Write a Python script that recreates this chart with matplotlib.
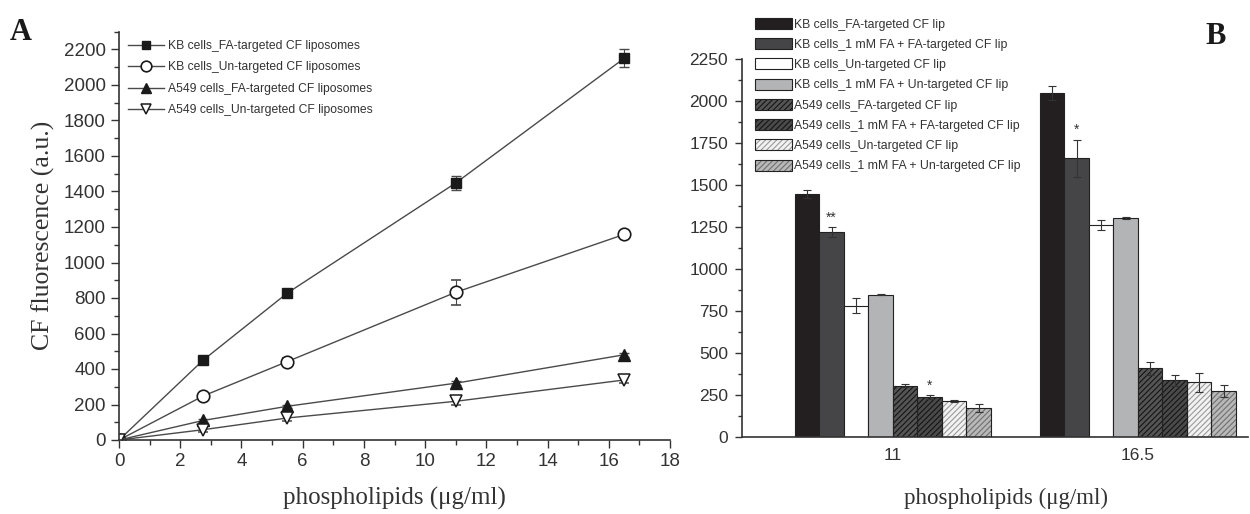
import matplotlib.pyplot as plt
from matplotlib.ticker import MultipleLocator
from matplotlib.patches import Patch

plt.rcParams['font.family'] = ['Liberation Sans', 'DejaVu Sans']
plt.rcParams['hatch.linewidth'] = 0.8

# ---- panel A data ----
conc = [0, 2.75, 5.5, 11, 16.5]
kb_fa = [0, 450, 828, 1448, 2150]
kb_fa_err = [0, 12, 15, 40, 50]
kb_un = [0, 248, 442, 832, 1158]
kb_un_err = [0, 18, 22, 72, 18]
a549_fa = [0, 110, 190, 320, 480]
a549_fa_err = [0, 10, 10, 12, 12]
a549_un = [0, 58, 124, 218, 338]
a549_un_err = [0, 15, 15, 18, 15]

labels_a = ["KB cells_FA-targeted CF liposomes",
            "KB cells_Un-targeted CF liposomes",
            "A549 cells_FA-targeted CF liposomes",
            "A549 cells_Un-targeted CF liposomes"]

# ---- panel B data ----
groups = ["11", "16.5"]
bar_labels = ["KB cells_FA-targeted CF lip",
              "KB cells_1 mM FA + FA-targeted CF lip",
              "KB cells_Un-targeted CF lip",
              "KB cells_1 mM FA + Un-targeted CF lip",
              "A549 cells_FA-targeted CF lip",
              "A549 cells_1 mM FA + FA-targeted CF lip",
              "A549 cells_Un-targeted CF lip",
              "A549 cells_1 mM FA + Un-targeted CF lip"]
vals_11 = [1448, 1220, 782, 848, 305, 238, 215, 172]
errs_11 = [25, 30, 45, 4, 10, 10, 8, 25]
vals_16 = [2045, 1660, 1262, 1303, 408, 338, 325, 275]
errs_16 = [42, 110, 30, 8, 40, 32, 55, 35]
stars_11 = ["", "**", "", "", "", "*", "", ""]
stars_16 = ["", "*", "", "", "", "", "", ""]

faces = ["#231f20", "#454547", "#ffffff", "#b3b4b6",
         "#555555", "#4a4a4a", "#f2f2f2", "#b8b8b8"]
hatches = [None, None, None, None, "//////", "//////", "//////", "//////"]
hatch_cols = [None, None, None, None, "#151515", "#151515", "#9a9a9a", "#707070"]

txt = "#333333"
fig = plt.figure(figsize=(12.5, 5.14), dpi=100)

# ================= Panel A =================
ax = fig.add_axes([119/1250, 1-440/514, (670-119)/1250, (440-31.75)/514])
lc = "#4a4a4a"
c1 = ax.errorbar(conc, kb_fa, yerr=kb_fa_err, color=lc, lw=1, marker="s", ms=7,
                 mfc="#1a1a1a", mec="#1a1a1a", capsize=3.5, elinewidth=0.8)
c2 = ax.errorbar(conc, kb_un, yerr=kb_un_err, color=lc, lw=1, marker="o", ms=9,
                 mfc="white", mec="#1a1a1a", mew=1.2, capsize=3.5, elinewidth=0.8)
c3 = ax.errorbar(conc, a549_fa, yerr=a549_fa_err, color=lc, lw=1, marker="^", ms=8,
                 mfc="#1a1a1a", mec="#1a1a1a", capsize=3.5, elinewidth=0.8)
c4 = ax.errorbar(conc, a549_un, yerr=a549_un_err, color=lc, lw=1, marker="v", ms=8,
                 mfc="white", mec="#1a1a1a", mew=1.1, capsize=3.5, elinewidth=0.8)

ax.set_xlim(0, 18)
ax.set_ylim(0, 2300)
ax.xaxis.set_major_locator(MultipleLocator(2))
ax.xaxis.set_minor_locator(MultipleLocator(1))
ax.yaxis.set_major_locator(MultipleLocator(200))
ax.yaxis.set_minor_locator(MultipleLocator(100))
for s in ["top", "right"]:
    ax.spines[s].set_visible(False)
for s in ["left", "bottom"]:
    ax.spines[s].set_color("#333333")
    ax.spines[s].set_linewidth(1.2)
ax.tick_params(which="major", length=6, width=1, colors="#333333", labelsize=13.5, labelcolor=txt)
ax.tick_params(which="minor", length=3.5, width=1, colors="#333333")
ax.set_ylabel("CF fluorescence (a.u.)", family="Liberation Serif", fontsize=18.5, color=txt, labelpad=6)
ax.set_xlabel("phospholipids (\u03bcg/ml)", family="Liberation Serif", fontsize=18, color=txt, labelpad=12)
leg = ax.legend([c.lines[0] for c in (c1, c2, c3, c4)], labels_a,
                loc="upper left", bbox_to_anchor=(128/1250, 1-40/514), bbox_transform=fig.transFigure,
                frameon=False, fontsize=8.7, handlelength=3.0, handletextpad=0.35,
                labelspacing=0.78, borderaxespad=0, borderpad=0, markerscale=0.85)
for t in leg.get_texts():
    t.set_color(txt)
fig.text(10/1250, 1-33/514, "A", family="Liberation Serif", fontsize=22, fontweight="bold",
         color="#1a1a1a", va="center", ha="left")

# ================= Panel B =================
bx = fig.add_axes([742/1250, 1-437/514, (1248-742)/1250, 378/514])
w = 0.1
handles = []
for i in range(len(bar_labels)):
    xs = [g + (i - 3.5) * w for g in range(len(groups))]
    ys = [vals_11[i], vals_16[i]]
    es = [errs_11[i], errs_16[i]]
    if hatches[i]:
        bx.bar(xs, ys, width=w, color=faces[i], edgecolor=hatch_cols[i],
               hatch=hatches[i], linewidth=0, zorder=2)
        bx.bar(xs, ys, width=w, facecolor="none", edgecolor="#222222",
               linewidth=0.8, zorder=3)
        handles.append((Patch(facecolor=faces[i], edgecolor=hatch_cols[i], hatch=hatches[i], linewidth=0),
                        Patch(facecolor="none", edgecolor="#222222", linewidth=0.8)))
    else:
        bx.bar(xs, ys, width=w, color=faces[i], edgecolor="#222222", linewidth=0.8, zorder=2)
        handles.append(Patch(facecolor=faces[i], edgecolor="#222222", linewidth=0.8))
    bx.errorbar(xs, ys, yerr=es, fmt="none", ecolor="#333333", elinewidth=0.8,
                capsize=3, capthick=0.8, zorder=4)
    for x, y, e, s in zip(xs, ys, es, [stars_11[i], stars_16[i]]):
        if s:
            bx.text(x, y + e + 15, s, ha="center", va="bottom", fontsize=10, color=txt)

bx.set_xlim(-0.616, 1.449)
bx.set_ylim(0, 2250)
bx.set_xticks(range(len(groups)))
bx.set_xticklabels(groups)
bx.yaxis.set_major_locator(MultipleLocator(250))
bx.yaxis.set_minor_locator(MultipleLocator(125))
for s in ["top", "right"]:
    bx.spines[s].set_visible(False)
for s in ["left", "bottom"]:
    bx.spines[s].set_color("#333333")
    bx.spines[s].set_linewidth(1.2)
bx.tick_params(axis="y", which="major", length=5, width=1, colors="#333333", labelsize=12.5,
               labelcolor=txt, pad=5)
bx.tick_params(axis="y", which="minor", length=3, width=1, colors="#333333")
bx.tick_params(axis="x", length=0, labelsize=12.5, labelcolor=txt, pad=8)
bx.set_xlabel("phospholipids (\u03bcg/ml)", family="Liberation Serif", fontsize=16.5, color=txt, labelpad=18)
bx.xaxis.label.set_x((1006 - 742) / 506)
legb = bx.legend(handles, bar_labels, loc="upper left", bbox_to_anchor=(755/1250, 1-18/514),
                 bbox_transform=fig.transFigure, frameon=False, fontsize=8.8,
                 handlelength=3.0, handleheight=1.0, handletextpad=0.2,
                 labelspacing=0.62, borderaxespad=0, borderpad=0)
for t in legb.get_texts():
    t.set_color(txt)
fig.text(1205/1250, 1-37/514, "B", family="Liberation Serif", fontsize=22, fontweight="bold",
         color="#1a1a1a", va="center", ha="left")

fig.savefig("out.png", dpi=100)
